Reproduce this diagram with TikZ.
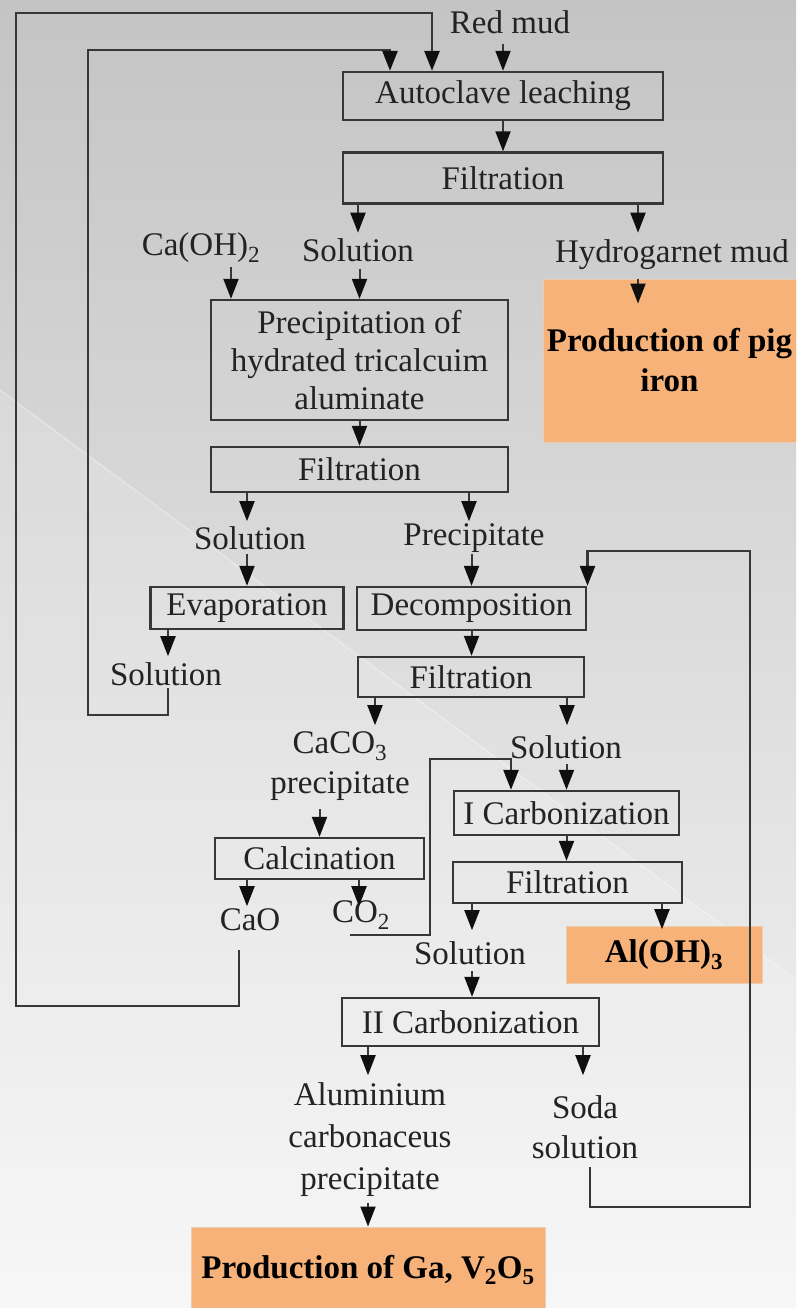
\documentclass[tikz,border=0pt]{standalone}
\usepackage{fontspec}
\setmainfont{Liberation Serif}
\usetikzlibrary{arrows.meta}
\definecolor{bgtop}{RGB}{196,196,196}
\definecolor{bgbot}{RGB}{246,246,246}
\definecolor{linec}{RGB}{55,55,55}
\definecolor{tipc}{RGB}{15,15,15}
\definecolor{txtc}{RGB}{35,35,35}
\definecolor{orangef}{RGB}{247,178,122}
\definecolor{oranged}{RGB}{236,205,178}
\begin{document}
\begin{tikzpicture}[x=1pt,y=1pt,
  box/.style={draw=linec, line width=2.4pt, inner sep=0pt, text=txtc, font=\fontsize{33}{38}\selectfont, align=center},
  lbl/.style={inner sep=0pt, text=txtc, font=\fontsize{33}{40}\selectfont, align=center},
  outbox/.style={fill=orangef, draw=oranged, line width=1pt, inner sep=0pt, font=\bfseries\fontsize{33}{40}\selectfont, align=center, text=black},
  arr/.style={draw=linec, line width=2pt, -{Triangle[length=20pt,width=15pt,color=tipc]}},
  loopline/.style={draw=linec, line width=2.6pt, -{Triangle[length=20pt,width=15pt,color=tipc]}}
]
\useasboundingbox (0,0) rectangle (796,-1308);
\clip (0,0) rectangle (796,-1308);
% background
\shade[top color=bgtop, bottom color=bgbot] (0,0) rectangle (796,-1308);
\fill[white, opacity=0.15] (0,-390) -- (796,-980) -- (796,-1308) -- (0,-1308) -- cycle;
\draw[white, opacity=0.35, line width=1.2pt] (0,-390) -- (796,-980);

% process boxes
\node[box, minimum width=320pt, minimum height=48pt] (auto) at (503,-96) {Autoclave leaching};
\node[box, minimum width=320pt, minimum height=51pt] (filt1) at (503,-178) {Filtration};
\node[box, minimum width=297pt, minimum height=120pt] (prec) at (359.5,-360) {Precipitation of\\hydrated tricalcuim\\aluminate};
\node[box, minimum width=297pt, minimum height=45pt] (filt2) at (359.5,-469.5) {Filtration};
\node[box, minimum width=193pt, minimum height=42pt] (evap) at (247,-608) {Evaporation};
\node[box, minimum width=229pt, minimum height=43pt] (decomp) at (471.5,-608.5) {Decomposition};
\node[box, minimum width=226pt, minimum height=40pt] (filt3) at (471,-677) {Filtration};
\node[box, minimum width=225pt, minimum height=44pt] (carb1) at (566.5,-813) {I Carbonization};
\node[box, minimum width=229pt, minimum height=41pt] (filt4) at (567.5,-882.5) {Filtration};
\node[box, minimum width=209pt, minimum height=41pt] (calc) at (319.5,-858.5) {Calcination};
\node[box, minimum width=257pt, minimum height=48pt] (carb2) at (470.5,-1022) {II Carbonization};

% product boxes
\node[outbox, minimum width=253pt, minimum height=163pt] (pig) at (669.5,-360.5) {Production of pig\\iron};
\node[outbox, minimum width=196pt, minimum height=57pt] (aloh) at (664,-954.5) {Al(OH)\textsubscript{3}};
\node[outbox, minimum width=354pt, minimum height=86pt] (ga) at (368,-1270) {Production of Ga, V\textsubscript{2}O\textsubscript{5}};

% labels
\node[lbl] (redmud) at (510,-22) {Red mud};
\node[lbl] (caoh) at (201,-248) {Ca(OH)\textsubscript{2}};
\node[lbl] (sol1) at (358,-250) {Solution};
\node[lbl] (hydro) at (672,-255) {Hydrogarnet mud};
\node[lbl] (sol2) at (250,-538) {Solution};
\node[lbl] (precip) at (474,-538) {Precipitate};
\node[lbl] (sol3) at (166,-674) {Solution};
\node[lbl] (caco) at (340,-766) {CaCO\textsubscript{3}\\precipitate};
\node[lbl] (sol4) at (566,-747) {Solution};
\node[lbl] (cao) at (250,-920) {CaO};
\node[lbl] (co2) at (361,-915) {CO\textsubscript{2}};
\node[lbl] (sol5) at (470,-953) {Solution};
\node[lbl, font=\fontsize{33}{42}\selectfont] (alum) at (370,-1140) {Aluminium\\carbonaceus\\precipitate};
\node[lbl, font=\fontsize{33}{40}\selectfont] (soda) at (585,-1127) {Soda\\solution};

% free ends of the recycle lines
\coordinate (caoout) at (239,-950);
\coordinate (sol3out) at (168,-688);
\coordinate (co2out) at (350,-935);
\coordinate (sodaout) at (590,-1167);

% straight connectors
\draw[arr] ([yshift=27pt]auto.north) -- (auto.north);
\draw[arr] (auto.south) -- (filt1.north);
\draw[arr] ([xshift=-145pt]filt1.south) -- ++(0,-28);
\draw[arr] ([xshift=135pt]filt1.south) -- ++(0,-28);
\draw[arr] ([xshift=-31.5pt]pig.north) -- ++(0,-25);
\draw[arr] ([xshift=-128.5pt,yshift=32pt]prec.north) -- ([xshift=-128.5pt]prec.north);
\draw[arr] ([yshift=30pt]prec.north) -- (prec.north);
\draw[arr] (prec.south) -- (filt2.north);
\draw[arr] ([xshift=-112.5pt]filt2.south) -- ++(0,-28);
\draw[arr] ([xshift=109.5pt]filt2.south) -- ++(0,-28);
\draw[arr] ([yshift=32pt]evap.north) -- (evap.north);
\draw[arr] ([yshift=32pt]decomp.north) -- (decomp.north);
\draw[arr] ([xshift=-79pt]evap.south) -- ++(0,-26);
\draw[arr] (decomp.south) -- (decomp.south |- filt3.north);
\draw[arr] ([xshift=-96pt]filt3.south) -- ++(0,-27);
\draw[arr] ([xshift=96pt]filt3.south) -- ++(0,-27);
\draw[arr] ([yshift=28pt]calc.north) -- (calc.north);
\draw[arr] ([yshift=26pt]carb1.north) -- (carb1.north);
\draw[arr] (carb1.south) -- (carb1.south |- filt4.north);
\draw[arr] ([xshift=-72.5pt]calc.south) -- ++(0,-26);
\draw[arr] ([xshift=39.5pt]calc.south) -- ++(0,-26);
\draw[arr] ([xshift=-95.5pt]filt4.south) -- ++(0,-26);
\draw[arr] ([xshift=94.5pt]filt4.south) -- ++(0,-25);
\draw[arr] ([xshift=1.5pt,yshift=26pt]carb2.north) -- ([xshift=1.5pt]carb2.north);
\draw[arr] ([xshift=-102.5pt]carb2.south) -- ++(0,-28);
\draw[arr] ([xshift=112.5pt]carb2.south) -- ++(0,-28);
\draw[arr] ([yshift=24pt]ga.north) -- (ga.north);

% recycle lines
\draw[loopline] (caoout) -- (239,-1006) -| (16,-13) -| ([xshift=-71pt]auto.north);
\draw[loopline] (sol3out) -- (168,-715) -| (88,-50) -| ([xshift=-113pt]auto.north);
\draw[loopline] (co2out) -| (430,-759) -| ([xshift=-55.5pt]carb1.north);
\draw[loopline] (sodaout) |- (750,-1207) |- ([xshift=116pt,yshift=35pt]decomp.north) -- ([xshift=116pt]decomp.north);
\end{tikzpicture}
\end{document}
